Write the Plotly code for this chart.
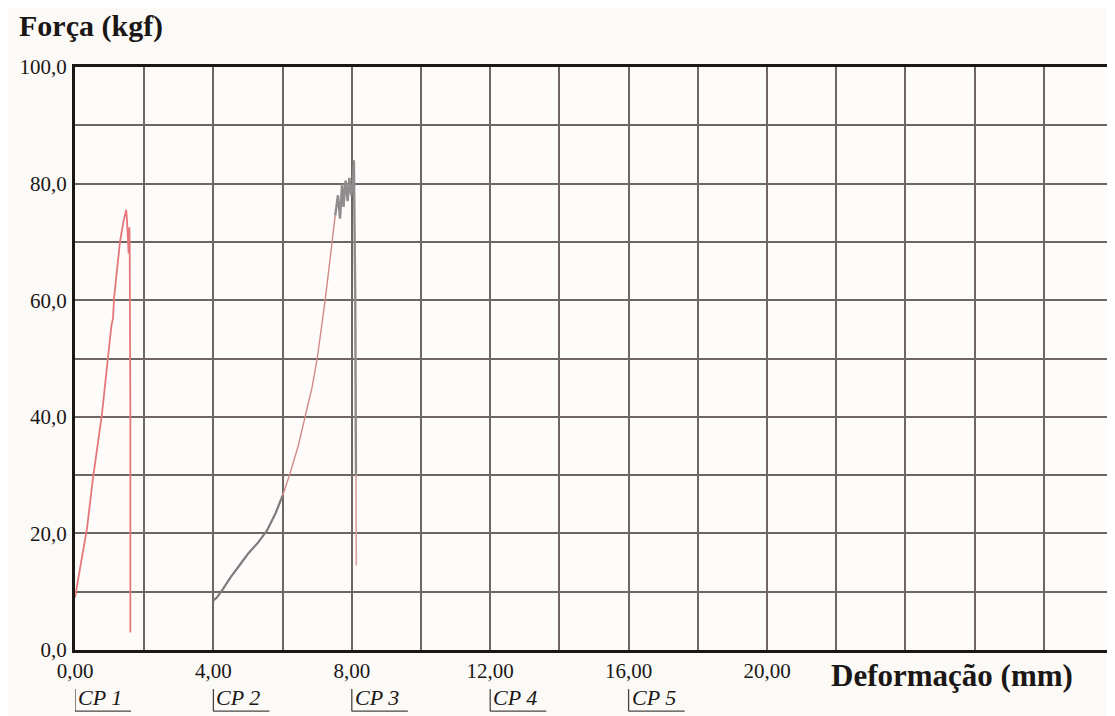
import plotly.graph_objects as go

# ---- data ----
cp1_x = [0.00, 0.10, 0.20, 0.35, 0.52, 0.65, 0.78, 0.95, 1.05, 1.10, 1.13, 1.22, 1.30, 1.40,
         1.48, 1.50, 1.53, 1.55, 1.57, 1.58, 1.60, 1.60]
cp1_y = [9.0, 12.5, 16.0, 21.0, 29.5, 35.0, 40.5, 50.0, 55.5, 57.0, 60.5, 65.5, 70.0, 73.5,
         75.5, 74.0, 70.0, 68.0, 72.5, 70.0, 40.0, 3.0]

cp2_x = [4.00, 4.10, 4.28, 4.50, 4.75, 5.00, 5.30, 5.55, 5.80, 6.00, 6.20, 6.45, 6.65, 6.85,
         7.00, 7.12, 7.23, 7.33, 7.43, 7.52, 7.60, 7.66, 7.72, 7.76, 7.82, 7.88, 7.93, 7.98,
         8.03, 8.06, 8.10, 8.12, 8.13]
cp2_y = [8.5, 9.0, 10.5, 12.5, 14.5, 16.5, 18.5, 20.5, 23.5, 26.5, 30.0, 35.0, 40.0, 45.0,
         50.0, 55.0, 60.0, 65.0, 70.0, 74.5, 78.0, 74.0, 80.0, 76.0, 80.5, 77.0, 81.0, 78.0,
         80.0, 84.0, 60.0, 30.0, 14.5]

x_ticks = list(range(0, 31, 2))
x_labels = ["0,00", "", "4,00", "", "8,00", "", "12,00", "", "16,00", "", "20,00",
            "", "", "", "", ""]
y_ticks = list(range(0, 101, 10))
y_labels = ["0,0", "", "20,0", "", "40,0", "", "60,0", "", "80,0", "", "100,0"]

cp_names = ["CP 1", "CP 2", "CP 3", "CP 4", "CP 5"]
cp_pos = [0, 4, 8, 12, 16]

SERIF = "Liberation Serif, Times New Roman, serif"
GRID = "#6f6661"
INK = "#1b1716"

fig = go.Figure()
fig.add_trace(go.Scatter(x=cp1_x, y=cp1_y, mode="lines",
                         line=dict(color="#e6777a", width=1.8), showlegend=False))
# CP 2 drawn in pieces to follow the scanned ink colours
fig.add_trace(go.Scatter(x=cp2_x[:10], y=cp2_y[:10], mode="lines",
                         line=dict(color="#7d7b7b", width=2.2), showlegend=False))
fig.add_trace(go.Scatter(x=cp2_x[9:20], y=cp2_y[9:20], mode="lines",
                         line=dict(color="#d08a86", width=1.4), showlegend=False))
fig.add_trace(go.Scatter(x=cp2_x[19:32], y=cp2_y[19:32], mode="lines",
                         line=dict(color="#8e8c8c", width=2.4), showlegend=False))
fig.add_trace(go.Scatter(x=cp2_x[31:], y=cp2_y[31:], mode="lines",
                         line=dict(color="#d9a09c", width=1.6), showlegend=False))

axis_common = dict(showgrid=True, gridcolor=GRID, gridwidth=2, zeroline=False,
                   showline=True, linecolor=INK, linewidth=3, mirror=True, ticks="",
                   automargin=False,
                   tickfont=dict(family=SERIF, size=21, color=INK), fixedrange=True)

fig.update_xaxes(range=[0, 30], tickmode="array", tickvals=x_ticks, ticktext=x_labels,
                 ticklabelstandoff=0, **axis_common)
fig.update_yaxes(range=[0, 100], tickmode="array", tickvals=y_ticks, ticktext=y_labels,
                 ticklabelstandoff=1, **axis_common)

annotations = [
    dict(text="<b>Força (kgf)</b>", xref="paper", yref="paper", x=0, y=1,
         xanchor="left", yanchor="bottom", xshift=-58, yshift=22, showarrow=False,
         font=dict(family=SERIF, size=30, color=INK)),
    dict(text="<b>Deformação (mm)</b>", xref="paper", yref="paper", x=1, y=0,
         xanchor="right", yanchor="top", xshift=-38, yshift=-6, showarrow=False,
         font=dict(family=SERIF, size=31, color=INK)),
]
shapes = []
for name, pos in zip(cp_names, cp_pos):
    annotations.append(dict(text=f"<i>{name}</i>", xref="x", yref="paper", x=pos, y=-0.082,
                            xanchor="left", yanchor="middle", xshift=1,
                            showarrow=False, font=dict(family=SERIF, size=22, color=INK)))
    shapes.append(dict(type="line", xref="x", yref="paper", x0=pos, x1=pos,
                       y0=-0.067, y1=-0.105,
                       line=dict(color="#4a4442", width=1.3)))
    shapes.append(dict(type="line", xref="x", yref="paper", x0=pos, x1=pos + 1.62,
                       y0=-0.105, y1=-0.105, line=dict(color="#4a4442", width=1.3)))

# the page adds an 8px body margin; the figure is sized so it fits the window exactly
fig.update_layout(width=1107, height=708, margin=dict(l=67, r=2, t=59, b=66),
                  paper_bgcolor="#fbfaf7", plot_bgcolor="#fdfcfa",
                  annotations=annotations, shapes=shapes, showlegend=False)

fig.write_html("out.html")
